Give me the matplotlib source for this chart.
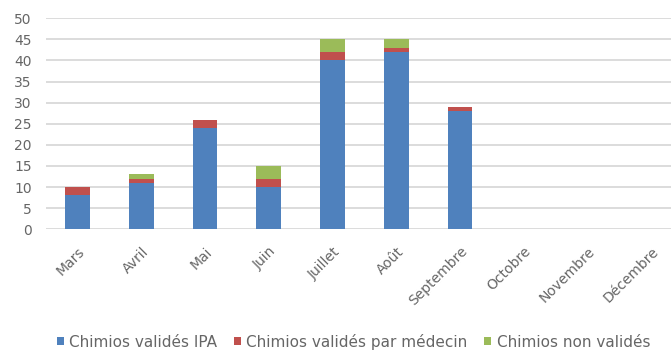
import matplotlib
matplotlib.use("Agg")
import matplotlib.pyplot as plt
import numpy as np

plt.rcParams['font.family'] = ['DejaVu Sans']

months = ["Mars", "Avril", "Mai", "Juin", "Juillet", "Août",
          "Septembre", "Octobre", "Novembre", "Décembre"]
valides_ipa = [8, 11, 24, 10, 40, 42, 28, 0, 0, 0]
valides_medecin = [2, 1, 2, 2, 2, 1, 1, 0, 0, 0]
non_valides = [0, 1, 0, 3, 3, 2, 0, 0, 0, 0]
series_names = ["Chimios validés IPA", "Chimios validés par médecin",
                "Chimios non validés"]
colors = ["#4f81bd", "#c0504d", "#9bbb59"]
text_color = '#666666'

fig = plt.figure(figsize=(6.71, 3.51), dpi=100)
ax = fig.add_axes([0.068, 0.347, 0.932, 0.601])

x = np.arange(len(months))
a = np.array(valides_ipa)
b = np.array(valides_medecin)
c = np.array(non_valides)
w = 0.39
ax.bar(x, a, w, color=colors[0], label=series_names[0], zorder=3)
ax.bar(x, b, w, bottom=a, color=colors[1], label=series_names[1], zorder=3)
ax.bar(x, c, w, bottom=a + b, color=colors[2], label=series_names[2], zorder=3)

ax.set_ylim(0, 50)
ax.set_yticks(range(0, 51, 5))
ax.set_xlim(-0.5, 9.31)
ax.set_xticks(x)
ax.set_xticklabels(months, rotation=45, ha='right', rotation_mode='anchor')
ax.grid(axis='y', color='#d9d9d9', linewidth=1.3, zorder=0)
for s in ax.spines.values():
    s.set_visible(False)
ax.tick_params(axis='both', length=0, labelsize=10, colors=text_color)
ax.tick_params(axis='y', pad=10)
ax.tick_params(axis='x', pad=11)

fig.legend(loc='center', bbox_to_anchor=(0.527, 0.027), ncol=3, frameon=False,
           fontsize=11, handlelength=0.45, handleheight=0.45, handletextpad=0.35,
           columnspacing=1.1, labelcolor=text_color)

fig.savefig("out.png", dpi=100)
